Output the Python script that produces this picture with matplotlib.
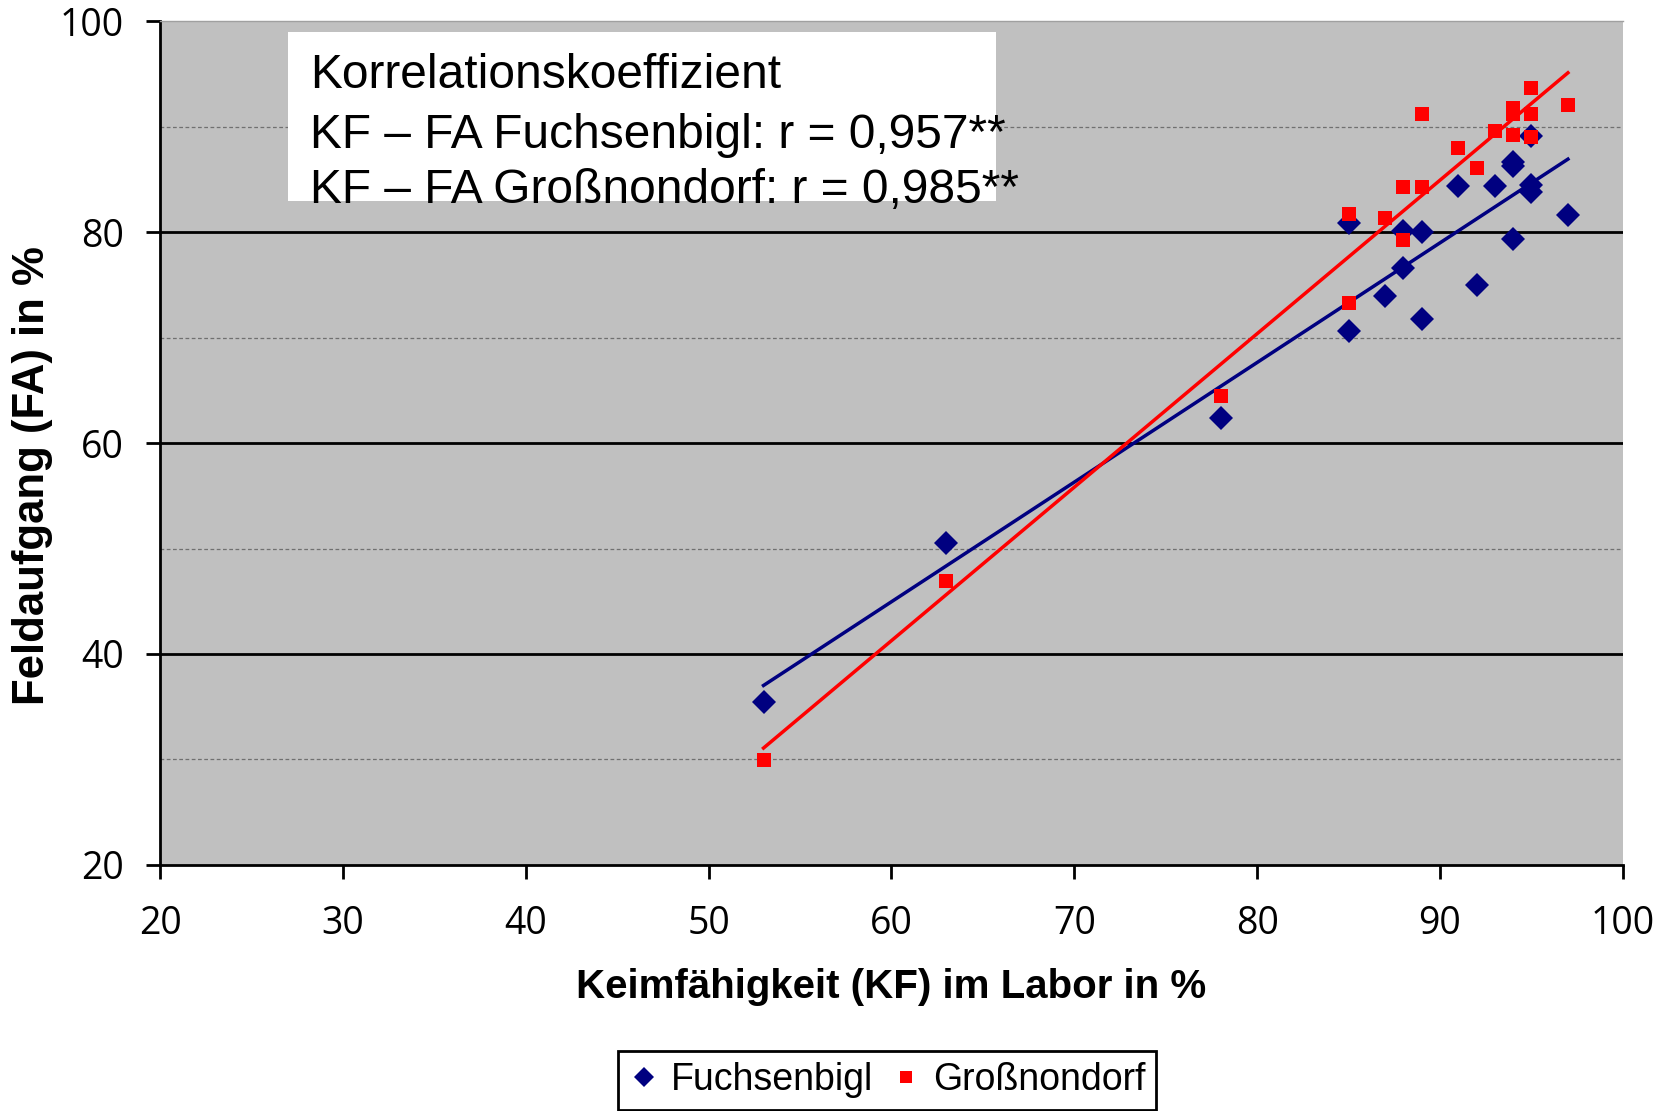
import numpy as np
import matplotlib
matplotlib.use("Agg")
import matplotlib.pyplot as plt
from matplotlib.patches import Rectangle

# Keimfähigkeit (KF) im Labor in %  ->  Feldaufgang (FA) in %
kf_fuchsenbigl = [53, 63, 78, 85, 85, 87, 88, 88, 89, 89, 91, 92, 93, 94, 94, 94, 95, 95, 95, 97]
fa_fuchsenbigl = [35.4, 50.5, 62.4, 80.9, 70.6, 74.0, 80.1, 76.6, 80.0, 71.8,
                  84.4, 75.0, 84.4, 86.7, 86.3, 79.4, 89.1, 84.5, 83.8, 81.6]

kf_grossnondorf = [53, 63, 78, 85, 85, 87, 88, 88, 89, 89, 91, 92, 93, 94, 94, 94, 95, 95, 95, 97]
fa_grossnondorf = [29.9, 46.9, 64.5, 81.7, 73.3, 81.4, 84.3, 79.3, 84.3, 91.2,
                   88.0, 86.1, 89.6, 91.8, 91.2, 89.2, 93.7, 91.2, 89.0, 92.1]

series_names = ["Fuchsenbigl", "Großnondorf"]
box_lines = ["Korrelationskoeffizient",
             "KF – FA Fuchsenbigl: r = 0,957**",
             "KF – FA Großnondorf: r = 0,985**"]

xticks = list(range(20, 101, 10))
yticks = list(range(20, 101, 20))
yticks_minor = [30, 50, 70, 90]

# ----------------------------------------------------------------------------------------

plt.rcParams['font.family'] = ['Open Sans', 'DejaVu Sans']
txt_font = ['Liberation Sans', 'DejaVu Sans']

fig = plt.figure(figsize=(16.74, 11.11), dpi=100)
ax = fig.add_axes([0.0957, 0.2216, 0.8737, 0.7591])
ax.set_facecolor('#C0C0C0')
ax.set_xlim(20, 100)
ax.set_ylim(20, 100)

ax.set_xticks(xticks)
ax.set_yticks(yticks)
ax.set_yticks(yticks_minor, minor=True)
ax.set_axisbelow(True)
ax.yaxis.grid(True, which='major', color='black', lw=2)
ax.yaxis.grid(True, which='minor', color='#707070', lw=0.9, ls=(0, (3, 2)))
ax.tick_params(which='minor', length=0)
ax.tick_params(axis='both', which='major', direction='out', length=10, width=2,
               labelsize=27)
ax.tick_params(axis='x', pad=19)
ax.tick_params(axis='y', pad=16)
gl = ax.get_ygridlines()
gl[0].set_visible(False)
gl[-1].set_visible(False)

for s in ['left', 'bottom']:
    ax.spines[s].set_linewidth(2)
ax.spines['top'].set_color('#A0A0A0')
ax.spines['top'].set_linewidth(1)
ax.spines['right'].set_visible(False)

# Trendlinien (linear)
for x, y, c in [(kf_fuchsenbigl, fa_fuchsenbigl, '#000080'),
                (kf_grossnondorf, fa_grossnondorf, '#FF0000')]:
    coef = np.polyfit(x, y, 1)
    xs = np.linspace(min(x), max(x), 50)
    ax.plot(xs, np.polyval(coef, xs), color=c, lw=2.5, zorder=2)

h1, = ax.plot(kf_fuchsenbigl, fa_fuchsenbigl, ls='none', marker='D', ms=12.5,
              color='#000080', mew=0, zorder=3, label=series_names[0])
h2, = ax.plot(kf_grossnondorf, fa_grossnondorf, ls='none', marker='s', ms=9.5,
              color='#FF0000', mew=0, zorder=4, label=series_names[1])

# Textfeld
ax.add_patch(Rectangle((27.0, 83.0), 38.7, 16.0, facecolor='white',
                       edgecolor='none', zorder=1))
for txt, yb in zip(box_lines, [93.7, 88.0, 82.8]):
    ax.text(28.2, yb, txt, fontsize=34.5, family=txt_font, va='baseline',
            ha='left', zorder=5)

ax.set_xlabel("Keimfähigkeit (KF) im Labor in %", fontsize=29,
              fontweight='bold', family=txt_font, va='center')
ax.xaxis.set_label_coords(0.5, -0.145)
ax.set_ylabel("Feldaufgang (FA) in %", fontsize=31.5, fontweight='bold',
              family=txt_font, va='center')
ax.yaxis.set_label_coords(-0.0876, 0.462)

leg = fig.legend(handles=[h1, h2], loc='upper center', bbox_to_anchor=(0.53, 0.054),
                 ncol=2, fancybox=False, edgecolor='black', framealpha=1,
                 prop={'family': txt_font, 'size': 27}, handlelength=0.8,
                 handletextpad=0.3, columnspacing=0.5, borderpad=0.3,
                 borderaxespad=0, markerscale=0.85)
leg.get_frame().set_linewidth(2)

fig.savefig("out.png", dpi=100)
